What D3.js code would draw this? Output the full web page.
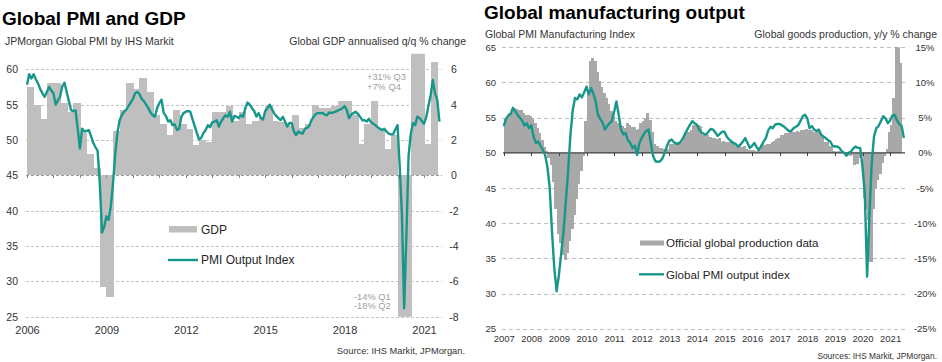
<!DOCTYPE html>
<html>
<head>
<meta charset="utf-8">
<script src="https://cdn.jsdelivr.net/npm/d3@7"></script>
<style>
  body { margin: 0; background: #fff; }
  svg { font-family: "Liberation Sans", Arial, sans-serif; }
  .tick line { shape-rendering: crispEdges; }
  .bars rect { shape-rendering: crispEdges; }
</style>
</head>
<body>
<svg id="chart" width="942" height="362"></svg>
<script>
// ---- left chart data ----
// JPMorgan Global PMI output index, monthly Jan 2006 - Aug 2021
const pmiOutput = [
  57.8, 59.3, 58.7, 59.3, 58.6, 58.0, 57.2, 56.6, 56.1, 56.8, 57.5, 57.0,
  56.6, 55.0, 55.6, 56.1, 57.6, 58.1, 56.8, 55.5, 54.2, 54.1, 54.2, 51.6,
  48.8, 51.6, 51.2, 51.3, 51.4, 50.6, 49.6, 49.0, 48.5, 44.0, 36.9, 37.7,
  39.2, 38.7, 40.6, 43.9, 48.0, 51.0, 52.8, 53.5, 54.0, 54.3, 54.8, 55.3,
  55.8, 56.6, 56.8, 56.5, 55.8, 55.5, 55.0, 54.5, 53.9, 53.5, 53.3, 54.5,
  55.2, 55.7, 53.8, 53.4, 52.6, 52.8, 52.1, 52.2, 51.4, 51.6, 53.3, 53.8,
  54.0, 54.1, 54.0, 53.0, 52.0, 51.0, 50.1, 50.3, 51.0, 51.4, 52.1, 51.8,
  52.5, 52.6, 52.8, 51.9, 52.6, 53.1, 53.5, 53.3, 54.0, 52.6, 53.4, 53.3,
  53.1, 53.5, 53.3, 54.5, 55.3, 55.0, 54.5, 54.1, 53.3, 53.8, 53.1, 52.9,
  54.1, 54.5, 55.0, 54.4, 53.8, 53.4, 53.1, 52.8, 53.3, 52.6, 51.9, 52.4,
  52.4, 51.2, 50.7, 51.2, 51.0, 50.9, 51.6, 51.7, 52.0, 52.8, 53.3, 53.7,
  53.8, 53.8, 53.8, 53.6, 53.5, 53.9, 53.8, 53.9, 54.0, 54.2, 54.3, 54.5,
  54.8, 54.2, 53.1, 53.6, 53.8, 54.0, 53.7, 53.3, 52.8, 52.8, 52.6, 53.0,
  52.5, 52.3, 52.1, 51.8, 51.6, 51.4, 51.6, 51.2, 50.9, 50.8, 50.8, 51.5,
  52.1, 46.1, 39.4, 26.2, 36.3, 47.7, 50.8, 52.4, 52.1, 53.3, 53.1, 52.7,
  52.3, 53.2, 54.8, 56.3, 58.5, 56.6, 55.7, 52.6
];
// Global GDP annualised q/q %, 2006Q1 - 2021Q2
const gdpGrowth = [
  5.0, 4.0, 3.2, 5.2,
  5.2, 4.1, 3.6, 4.1,
  2.4, 1.2, 0.4, -6.3,
  -6.9, 2.5, 3.7, 5.2,
  4.9, 5.5, 4.7, 3.4,
  2.9, 2.3, 3.7, 2.9,
  2.6, 1.7, 2.0, 1.9,
  3.6, 3.6, 3.9, 3.1,
  3.6, 2.9, 3.1, 3.3,
  3.9, 3.1, 3.0, 2.8,
  3.4, 2.7, 2.9, 4.0,
  3.8, 3.8, 3.9, 4.2,
  4.2, 3.4, 1.8, 2.9,
  4.2, 2.6, 1.5, 2.3,
  -14, -18, 31, 7,
  1.8, 6.4
];
const leftPmiTicks = [25, 30, 35, 40, 45, 50, 55, 60];
const leftGdpTicks = [-8, -6, -4, -2, 0, 2, 4, 6];
const leftYearLabels = [2006, 2009, 2012, 2015, 2018, 2021];

// ---- right chart data ----
// Global PMI manufacturing output index, monthly Jan 2007 - Jul 2021
const mfgOutput = [
  53.8, 54.8, 55.3, 55.5, 56.4, 55.9, 55.4, 55.0, 54.6, 53.9, 54.2, 53.5,
  53.9, 52.3, 51.4, 51.6, 51.0, 50.4, 49.7, 48.0, 45.0, 38.8, 33.6, 30.3,
  32.6, 35.7, 38.8, 43.0, 47.4, 52.5, 56.0, 57.8, 57.6, 58.3, 57.9, 58.6,
  59.4, 58.3, 59.2, 58.4, 57.3, 55.4, 54.8, 54.3, 53.3, 53.8, 54.2, 54.5,
  55.8, 57.3, 55.4, 53.3, 52.6, 52.8, 51.8, 51.4, 50.7, 51.0, 49.7, 51.4,
  52.1, 52.7, 53.1, 53.3, 51.3, 49.5, 48.8, 48.7, 48.8, 49.2, 50.0, 51.0,
  51.7, 51.9, 51.5, 51.3, 51.3, 51.6, 52.1, 52.8, 53.4, 54.0, 54.5, 54.2,
  54.0, 53.3, 52.9, 52.7, 52.6, 53.0, 53.4, 53.3, 52.9, 52.4, 52.7, 53.0,
  53.0, 52.3, 51.9, 51.6, 51.4, 51.2, 50.9, 51.2, 51.6, 52.1, 51.4, 50.7,
  51.0, 51.4, 50.8, 50.4, 51.0, 51.6, 52.1, 53.2, 53.7, 53.5, 54.0, 54.1,
  54.1, 53.9, 53.7, 53.4, 53.1, 53.1, 53.5, 53.7, 53.9, 54.5, 55.2, 55.4,
  54.9, 53.5, 53.8, 53.3, 53.1, 53.3, 52.6, 52.3, 52.1, 51.8, 51.6, 51.0,
  50.9, 50.9, 50.7, 50.2, 50.0, 49.6, 50.0, 50.2, 50.6, 50.9, 50.7, 50.7,
  48.0, 44.2, 32.4, 41.0, 48.5, 52.3, 53.5, 53.8, 54.5, 55.2, 54.9, 54.2,
  54.6, 55.3, 55.4, 54.6, 54.1, 53.8, 52.1
];
// Official global goods production y/y %, monthly Jan 2007 - May 2021
const goodsProduction = [
  4.9, 5.2, 5.6, 6.0, 6.4, 6.3, 6.1, 6.1, 5.6, 5.4, 5.4, 5.2,
  5.0, 4.2, 3.5, 2.8, 1.8, 0.8, 0.2, -0.8, -1.7, -4.2, -8.0, -11.5,
  -12.8, -14.5, -15.2, -14.3, -12.5, -10.8, -8.8, -6.6, -4.5, -2.6, -0.5, 4.5,
  9.0, 13.0, 13.5, 13.0, 11.5, 10.2, 9.3, 8.5, 7.8, 7.0, 6.0, 5.2,
  4.5, 4.2, 4.0, 3.8, 3.5, 4.2, 4.0, 3.7, 3.6, 3.3, 3.4, 4.3,
  4.5, 5.0, 5.7, 4.7, 3.0, 1.2, 0.9, 0.7, 0.7, 0.5, 0.4, 0.6,
  1.2, 1.3, 1.6, 1.6, 1.7, 1.6, 2.2, 3.0, 3.0, 3.2, 4.0, 4.0,
  4.0, 3.8, 2.6, 2.6, 2.6, 2.2, 2.1, 2.1, 2.0, 2.1, 1.6, 1.7,
  1.6, 1.5, 1.6, 1.4, 0.9, 0.9, 1.0, 0.8, 0.9, 0.6, 0.4, 0.4,
  0.4, 0.3, 0.5, 0.4, 1.2, 1.1, 1.3, 1.2, 1.5, 1.7, 2.0, 2.1,
  2.6, 2.6, 2.8, 2.8, 3.0, 3.0, 3.0, 3.1, 3.0, 3.3, 3.3, 3.4,
  3.3, 3.3, 3.0, 3.0, 3.0, 2.6, 2.6, 1.6, 1.6, 0.9, 0.9, 0.2,
  0.1, 0.2, 0.1, 0.0, -0.3, -0.3, -0.4, -0.3, -1.7, -1.6, -0.7, -0.5,
  -6.4, -8.0, -9.5, -15.5, -8.0, -5.0, -3.8, -3.0, -1.5, -0.5, 0.5, 3.0,
  4.0, 7.8, 16.5, 15.5, 12.7
];
const rightPmiTicks = [25, 30, 35, 40, 45, 50, 55, 60, 65];
const rightProdTicks = [-25, -20, -15, -10, -5, 0, 5, 10, 15];
const rightYearLabels = d3.range(2007, 2022);

const teal = '#17968a';
const svg = d3.select('#chart');

// ================= LEFT: Global PMI and GDP =================
const lx = d3.scaleLinear().domain([2006, 2021]).range([27, 424]);
const ly = d3.scaleLinear().domain([25, 60]).range([316.7, 69.3]);
const lyGdp = d3.scaleLinear().domain([-8, 6]).range([316.7, 69.3]);

const left = svg.append('g').attr('class', 'left');

left.append('text')
  .attr('x', 2).attr('y', 25)
  .style('font-size', '19px').style('font-weight', 'bold')
  .text('Global PMI and GDP');
left.append('text')
  .attr('x', 5).attr('y', 45)
  .style('font-size', '10.5px').attr('fill', '#333')
  .text('JPMorgan Global PMI by IHS Markit');
left.append('text')
  .attr('x', 466).attr('y', 45).attr('text-anchor', 'end')
  .style('font-size', '10.5px').attr('fill', '#333')
  .text('Global GDP annualised q/q % change');

// gridlines
left.append('g')
  .attr('transform', 'translate(26,0)')
  .call(d3.axisLeft(ly).tickValues(leftPmiTicks).tickSize(-416).tickFormat(''))
  .call(g => g.select('.domain').remove())
  .call(g => g.selectAll('.tick line')
    .attr('stroke', d => d === 45 ? '#9a9a9a' : '#c4c4c4')
    .attr('stroke-dasharray', '3,2'));

left.append('clipPath').attr('id', 'clipL')
  .append('rect').attr('x', 20).attr('y', ly(62.2))
  .attr('width', 430).attr('height', ly(25) - ly(62.2));

left.append('g').attr('class', 'bars').attr('clip-path', 'url(#clipL)')
  .selectAll('rect')
  .data(gdpGrowth)
  .enter().append('rect')
    .attr('x', (d, i) => lx(2006 + i / 4))
    .attr('width', (d, i) => lx(2006 + (i + 1) / 4) - lx(2006 + i / 4) + 0.8)
    .attr('y', d => lyGdp(Math.max(0, d)))
    .attr('height', d => Math.abs(lyGdp(d) - lyGdp(0)))
    .attr('fill', '#bfbfbf');

// year ticks on the 45 line
left.append('g')
  .attr('transform', `translate(0,${ly(45)})`)
  .call(d3.axisBottom(lx).tickValues(d3.range(2006, 2022)).tickSize(3).tickFormat(''))
  .call(g => g.select('.domain').remove())
  .call(g => g.selectAll('.tick line').attr('stroke', '#888'));

const leftLine = d3.line()
  .x((d, i) => lx(2006 + i / 12))
  .y(d => ly(d));

left.append('path')
  .datum(pmiOutput)
  .attr('d', leftLine)
  .attr('fill', 'none')
  .attr('stroke', teal)
  .attr('stroke-width', 2.4)
  .attr('stroke-linejoin', 'round');

// axes labels
left.append('g')
  .attr('transform', 'translate(18,0)')
  .call(d3.axisLeft(ly).tickValues(leftPmiTicks).tickSize(0).tickPadding(0))
  .call(g => g.select('.domain').remove())
  .call(g => g.selectAll('text').style('font-size', '10.5px').attr('fill', '#333'));

left.append('g')
  .attr('transform', 'translate(454,0)')
  .call(d3.axisRight(lyGdp).tickValues(leftGdpTicks).tickSize(0).tickPadding(0).tickFormat(d => String(d)))
  .call(g => g.select('.domain').remove())
  .call(g => g.selectAll('text').attr('text-anchor', 'middle')
    .style('font-size', '10.5px').attr('fill', '#333'));

left.append('g')
  .attr('transform', 'translate(0,326)')
  .call(d3.axisBottom(lx).tickValues(leftYearLabels).tickFormat(d3.format('d')).tickSize(0).tickPadding(0))
  .call(g => g.select('.domain').remove())
  .call(g => g.selectAll('text').style('font-size', '11px').attr('fill', '#333'));

// annotations
const noteL = left.append('g').style('font-size', '9.3px').attr('fill', '#a0a0a0');
noteL.append('text').attr('x', 367).attr('y', 80).text('+31% Q3');
noteL.append('text').attr('x', 367).attr('y', 89.5).text('+7% Q4');
noteL.append('text').attr('x', 354).attr('y', 299.5).text('-14% Q1');
noteL.append('text').attr('x', 354).attr('y', 309).text('-18% Q2');

// legend
left.append('rect').attr('x', 169).attr('y', 226).attr('width', 28).attr('height', 6.5).attr('fill', '#bfbfbf');
left.append('text').attr('x', 201).attr('y', 233.5).style('font-size', '12px').attr('fill', '#262626').text('GDP');
left.append('line').attr('x1', 168).attr('x2', 198).attr('y1', 260).attr('y2', 260)
  .attr('stroke', teal).attr('stroke-width', 2.4);
left.append('text').attr('x', 201).attr('y', 264.3).style('font-size', '12px').attr('fill', '#262626').text('PMI Output Index');

left.append('text')
  .attr('x', 465).attr('y', 353.5).attr('text-anchor', 'end')
  .style('font-size', '9.3px').attr('fill', '#333')
  .text('Source: IHS Markit, JPMorgan.');

// ================= RIGHT: Global manufacturing output =================
const rx = d3.scaleLinear().domain([2007, 2021]).range([503.7, 890.1]);
const ry = d3.scaleLinear().domain([25, 65]).range([328.7, 47.3]);
const ryProd = d3.scaleLinear().domain([-25, 15]).range([328.7, 47.3]);

const right = svg.append('g').attr('class', 'right');

right.append('text')
  .attr('x', 484).attr('y', 19)
  .style('font-size', '19px').style('font-weight', 'bold')
  .text('Global manufacturing output');
right.append('text')
  .attr('x', 485).attr('y', 38)
  .style('font-size', '10.5px').attr('fill', '#333')
  .text('Global PMI Manufacturing Index');
right.append('text')
  .attr('x', 937).attr('y', 38).attr('text-anchor', 'end')
  .style('font-size', '10.5px').attr('fill', '#333')
  .text('Global goods production, y/y % change');

right.append('g')
  .attr('transform', 'translate(502,0)')
  .call(d3.axisLeft(ry).tickValues(rightPmiTicks.filter(v => v !== 50)).tickSize(-403).tickFormat(''))
  .call(g => g.select('.domain').remove())
  .call(g => g.selectAll('.tick line').attr('stroke', '#bdbdbd').attr('stroke-dasharray', '4,3'));

right.append('clipPath').attr('id', 'clipR')
  .append('rect').attr('x', 495).attr('y', ry(65))
  .attr('width', 420).attr('height', ry(25) - ry(65));

right.append('g').attr('class', 'bars').attr('clip-path', 'url(#clipR)')
  .selectAll('rect')
  .data(goodsProduction)
  .enter().append('rect')
    .attr('x', (d, i) => rx(2007 + i / 12))
    .attr('width', (d, i) => rx(2007 + (i + 1) / 12) - rx(2007 + i / 12) + 0.8)
    .attr('y', d => ryProd(Math.max(0, d)))
    .attr('height', d => Math.abs(ryProd(d) - ryProd(0)))
    .attr('fill', '#a8a8a8');

// zero line with year ticks
right.append('line')
  .attr('x1', 503).attr('x2', 905)
  .attr('y1', ry(50)).attr('y2', ry(50))
  .attr('stroke', '#404040').attr('stroke-width', 1.2);
right.append('g')
  .attr('transform', `translate(0,${ry(50)})`)
  .call(d3.axisBottom(rx).tickValues(d3.range(2007, 2022)).tickSize(3).tickFormat(''))
  .call(g => g.select('.domain').remove())
  .call(g => g.selectAll('.tick line').attr('stroke', '#404040'));

const rightLine = d3.line()
  .x((d, i) => rx(2007 + i / 12))
  .y(d => ry(d));

right.append('path')
  .datum(mfgOutput)
  .attr('d', rightLine)
  .attr('fill', 'none')
  .attr('stroke', teal)
  .attr('stroke-width', 2.4)
  .attr('stroke-linejoin', 'round');

right.append('g')
  .attr('transform', 'translate(496,0)')
  .call(d3.axisLeft(ry).tickValues(rightPmiTicks).tickSize(0).tickPadding(0))
  .call(g => g.select('.domain').remove())
  .call(g => g.selectAll('text').style('font-size', '9.5px').attr('fill', '#333'));

right.append('g')
  .attr('transform', 'translate(925,0)')
  .call(d3.axisRight(ryProd).tickValues(rightProdTicks).tickSize(0).tickPadding(0).tickFormat(d => d + '%'))
  .call(g => g.select('.domain').remove())
  .call(g => g.selectAll('text').attr('text-anchor', 'middle')
    .style('font-size', '9.5px').attr('fill', '#333'));

right.append('g')
  .attr('transform', 'translate(0,335.5)')
  .call(d3.axisBottom(rx).tickValues(rightYearLabels).tickFormat(d3.format('d')).tickSize(0).tickPadding(0))
  .call(g => g.select('.domain').remove())
  .call(g => g.selectAll('text').style('font-size', '9.5px').attr('fill', '#333'));

// legend
right.append('rect').attr('x', 640).attr('y', 240.5).attr('width', 24).attr('height', 5).attr('fill', '#a8a8a8');
right.append('text').attr('x', 666).attr('y', 247).style('font-size', '11.6px').attr('fill', '#262626')
  .text('Official global production data');
right.append('line').attr('x1', 639).attr('x2', 664).attr('y1', 274.3).attr('y2', 274.3)
  .attr('stroke', teal).attr('stroke-width', 2.4);
right.append('text').attr('x', 666).attr('y', 278.5).style('font-size', '11.6px').attr('fill', '#262626')
  .text('Global PMI output index');

right.append('text')
  .attr('x', 937).attr('y', 359).attr('text-anchor', 'end')
  .style('font-size', '8.4px').attr('fill', '#333')
  .text('Sources: IHS Markit, JPMorgan.');
</script>
</body>
</html>
